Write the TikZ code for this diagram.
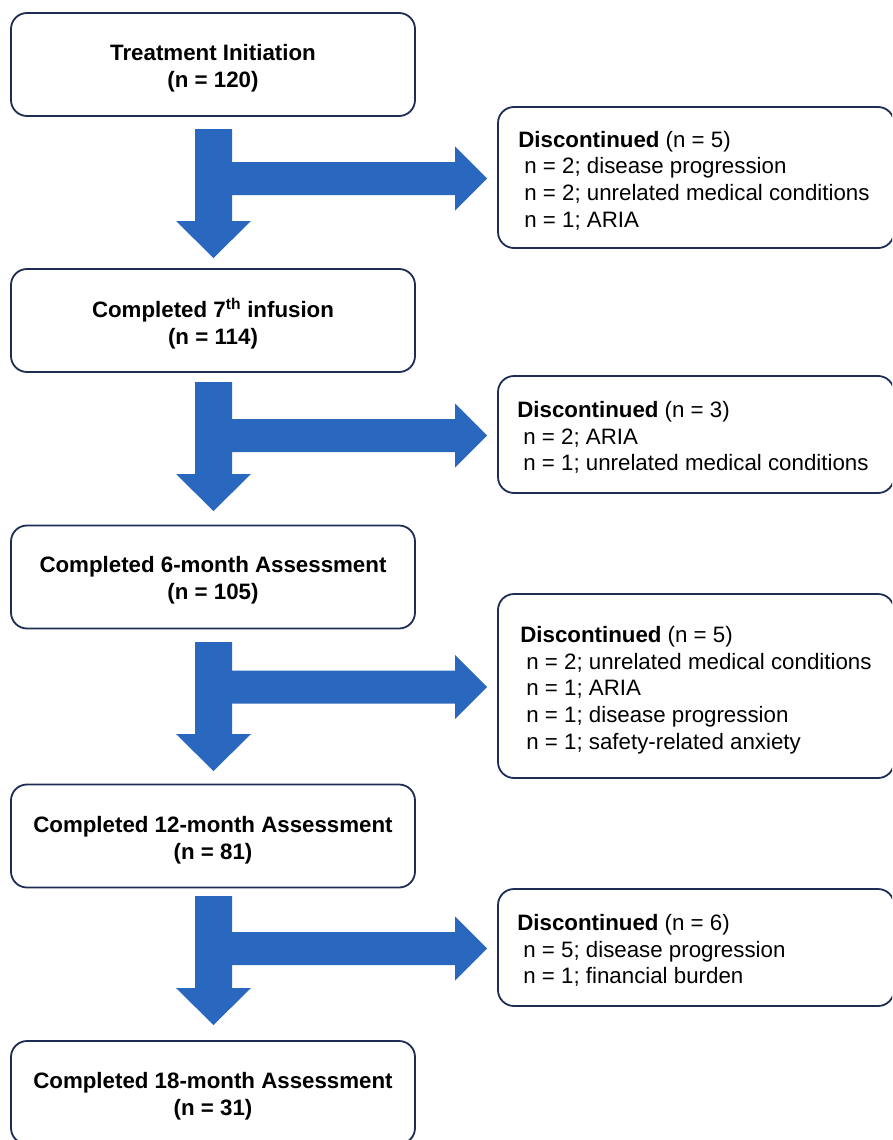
\documentclass[tikz,border=0pt]{standalone}
\usepackage{fontspec}
\setmainfont{Liberation Sans}
\usetikzlibrary{calc}
\definecolor{navy}{RGB}{31,45,84}
\definecolor{flowblue}{RGB}{42,103,190}
\newcommand{\flowarrow}[2]{%
  \fill[flowblue] let \p1=(#1), \p3=(#2.west) in
    (\x1-18.5pt,\y1) -- (\x1+18.5pt,\y1) -- (\x1+18.5pt,\y3-1pt+16.5pt)
    -- (\x3-42pt,\y3-1pt+16.5pt) -- (\x3-42pt,\y3-1pt+32pt) -- (\x3-10pt,\y3-1pt)
    -- (\x3-42pt,\y3-1pt-32pt) -- (\x3-42pt,\y3-1pt-16.5pt) -- (\x1+18.5pt,\y3-1pt-16.5pt)
    -- (\x1+18.5pt,\y1-92pt) -- (\x1+37.5pt,\y1-92pt) -- (\x1,\y1-129pt)
    -- (\x1-37.5pt,\y1-92pt) -- (\x1-18.5pt,\y1-92pt) -- cycle;}
\begin{document}
\begin{tikzpicture}[x=1pt,y=-1pt,
  stage/.style={draw=navy,line width=1.8pt,rounded corners=16pt,minimum width=404pt,
    minimum height=103pt,inner sep=0pt},
  stagetext/.style={align=center,inner sep=0pt,
    font=\fontsize{22.3}{27}\selectfont\bfseries},
  drop/.style={draw=navy,line width=1.8pt,rounded corners=16pt,minimum width=396pt,inner sep=0pt},
  droptext/.style={align=left,anchor=west,inner sep=0pt,font=\fontsize{22.3}{26.67}\selectfont}]
\useasboundingbox (0,0) rectangle (892,1140);
\clip (0,0) rectangle (892,1140);
% main stages
\node[stage] (s1) at (213,64.5) {};
\node[stagetext] (l1) at ($(s1)+(0,3.5)$) {Treatment Initiation\\(n = 120)};
\node[stage] (s2) at (213,320.5) {};
\node[stagetext] (l2) at ($(s2)+(0,3)$) {Completed 7\textsuperscript{th} infusion\\(n = 114)};
\node[stage] (s3) at (213,577) {};
\node[stagetext] (l3) at ($(s3)+(0,3)$) {Completed 6-month Assessment\\(n = 105)};
\node[stage] (s4) at (213,836) {};
\node[stagetext] (l4) at ($(s4)+(0,4)$) {Completed 12-month Assessment\\(n = 81)};
\node[stage] (s5) at (213,1092.5) {};
\node[stagetext] (l5) at ($(s5)+(0,4)$) {Completed 18-month Assessment\\(n = 31)};
% discontinued boxes
\node[drop,minimum height=141pt] (d1) at (696,177.5) {};
\node[droptext] (t1) at ($(d1.west)+(21,3)$) {\textbf{Discontinued} (n = 5)\\
  \hspace*{6pt}n = 2; disease progression\\
  \hspace*{6pt}n = 2; unrelated medical conditions\\
  \hspace*{6pt}n = 1; ARIA};
\node[drop,minimum height=117pt] (d2) at (696,434.5) {};
\node[droptext] (t2) at ($(d2.west)+(20,3)$) {\textbf{Discontinued} (n = 3)\\
  \hspace*{6pt}n = 2; ARIA\\
  \hspace*{6pt}n = 1; unrelated medical conditions};
\node[drop,minimum height=184pt] (d3) at (696,686) {};
\node[droptext] (t3) at ($(d3.west)+(23,4)$) {\textbf{Discontinued} (n = 5)\\
  \hspace*{6pt}n = 2; unrelated medical conditions\\
  \hspace*{6pt}n = 1; ARIA\\
  \hspace*{6pt}n = 1; disease progression\\
  \hspace*{6pt}n = 1; safety-related anxiety};
\node[drop,minimum height=117pt] (d4) at (696,947.5) {};
\node[droptext] (t4) at ($(d4.west)+(20,3)$) {\textbf{Discontinued} (n = 6)\\
  \hspace*{6pt}n = 5; disease progression\\
  \hspace*{6pt}n = 1; financial burden};
% block arrows
\coordinate (a1) at (213.5,129);
\coordinate (a2) at (213.5,382);
\coordinate (a3) at (213.5,642);
\coordinate (a4) at (213.5,896);
\flowarrow{a1}{d1}
\flowarrow{a2}{d2}
\flowarrow{a3}{d3}
\flowarrow{a4}{d4}
\end{tikzpicture}
\end{document}
